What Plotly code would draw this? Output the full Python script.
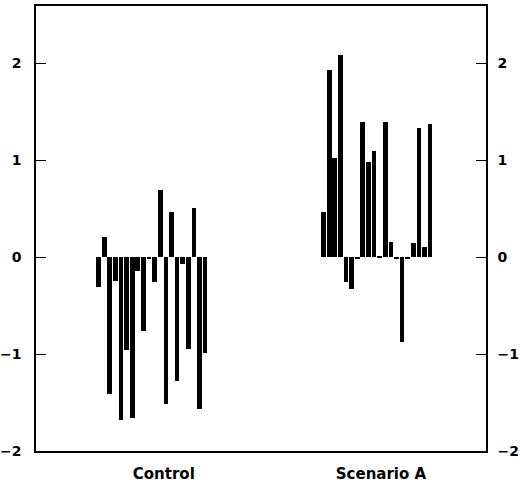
import plotly.graph_objects as go

groups = ["Control", "Scenario A"]
control_values = [-0.31, 0.21, -1.41, -0.25, -1.68, -0.96, -1.66, -0.14, -0.76, -0.02,
                  -0.26, 0.69, -1.52, 0.47, -1.28, -0.07, -0.95, 0.51, -1.57, -0.99]
scenario_values = [0.47, 1.93, 1.02, 2.08, -0.26, -0.33, -0.01, 1.39, 0.98, 1.09,
                   0.01, 1.39, 0.16, -0.01, -0.88, -0.01, 0.15, 1.33, 0.10, 1.37]
y_ticks = [-2, -1, 0, 1, 2]

spacing = 0.0249
fig = go.Figure()
for gi, vals in enumerate([control_values, scenario_values]):
    n = len(vals)
    xs = [gi + (i - (n - 1) / 2) * spacing for i in range(n)]
    fig.add_trace(go.Bar(x=xs, y=vals, width=spacing * 0.85,
                         marker=dict(color="black", line=dict(width=0)),
                         showlegend=False))
# invisible trace to activate right axis
fig.add_trace(go.Scatter(x=[0], y=[0], yaxis="y2", mode="markers",
                         marker=dict(opacity=0), showlegend=False, hoverinfo="skip"))

font = dict(family="DejaVu Sans", size=14, color="black", weight="bold")
yr = [-2, 2.59]
fig.update_layout(
    width=520, height=489,
    margin=dict(l=36, r=34, t=6, b=38, autoexpand=False),
    paper_bgcolor="white", plot_bgcolor="white",
    xaxis=dict(range=[-0.515, 1.485], tickvals=[0.053, 1.018], ticktext=groups,
               showgrid=False, zeroline=False, showline=True, linecolor="black",
               linewidth=1.5, mirror=True, ticks="", automargin=False,
               ticklabelstandoff=8,
               tickfont=dict(family="DejaVu Sans", size=15, color="black", weight="bold")),
    yaxis=dict(range=yr, tickvals=y_ticks, showgrid=False, zeroline=False,
               showline=True, linecolor="black", linewidth=1.5, automargin=False,
               ticks="inside", ticklen=10, tickcolor="black", tickfont=font,
               ticklabelstandoff=10),
    yaxis2=dict(range=yr, tickvals=y_ticks, overlaying="y", side="right",
                showgrid=False, zeroline=False, showline=True, linecolor="black",
                linewidth=1.5, ticks="inside", ticklen=10, tickcolor="black",
                tickfont=font, automargin=False, ticklabelstandoff=7),
    bargap=0,
)
fig.write_html("out.html", config={"displayModeBar": False},
               post_script="document.body.style.margin='0';document.body.style.overflow='hidden';")
